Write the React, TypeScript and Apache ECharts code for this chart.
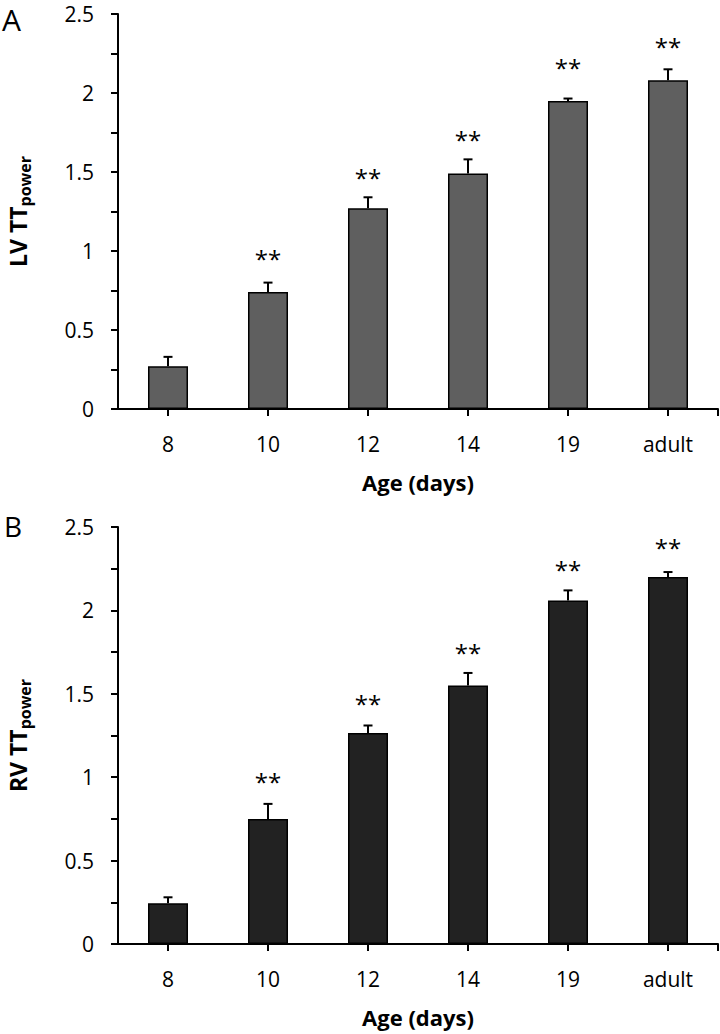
import React, { useEffect, useRef } from "react";
import * as echarts from "echarts";

const categories = ["8", "10", "12", "14", "19", "adult"];
const yTickLabels = ["0", "0.5", "1", "1.5", "2", "2.5"];

const lvValues = [0.27, 0.74, 1.27, 1.49, 1.95, 2.08];
const lvErrTop = [0.33, 0.8, 1.34, 1.58, 1.965, 2.15];
const lvStars = [null, 0.96, 1.47, 1.715, 2.165, 2.3];

const rvValues = [0.245, 0.75, 1.265, 1.55, 2.06, 2.2];
const rvErrTop = [0.28, 0.84, 1.31, 1.625, 2.12, 2.23];
const rvStars = [null, 0.98, 1.45, 1.756, 2.25, 2.385];

const FONT = "'Open Sans', 'Liberation Sans', sans-serif";

const GRID_A = { left: 118, top: 14, width: 600, height: 395 };
const GRID_B = { left: 118, top: 527, width: 600, height: 417 };

function yAxis(gridIndex: number, name: string) {
  return {
    type: "value",
    gridIndex,
    min: 0,
    max: 2.5,
    interval: 0.25,
    name: `{a|${name} TT}{b|power}`,
    nameLocation: "middle",
    nameRotate: 90,
    nameGap: 85,
    nameTextStyle: {
      rich: {
        a: { fontFamily: FONT, fontSize: 23, fontWeight: "bold", color: "#000", lineHeight: 30 },
        b: { fontFamily: FONT, fontSize: 16, fontWeight: "bold", color: "#000", lineHeight: 20, verticalAlign: "bottom" },
      },
    },
    splitLine: { show: false },
    axisLine: { show: true, lineStyle: { color: "#000", width: 2 } },
    axisTick: { show: true, inside: false, length: 7, lineStyle: { color: "#000", width: 2 } },
    axisLabel: {
      margin: 24,
      fontFamily: FONT,
      fontSize: 21,
      color: "#000",
      formatter: (v: number) => {
        const idx = Math.round(v * 2);
        return Math.abs(v * 2 - idx) < 1e-6 ? yTickLabels[idx] : "";
      },
    },
  };
}

function xAxis(gridIndex: number) {
  return {
    type: "category",
    gridIndex,
    data: categories,
    boundaryGap: true,
    name: "Age (days)",
    nameLocation: "middle",
    nameGap: 62,
    nameTextStyle: { fontFamily: FONT, fontSize: 22, fontWeight: "bold", color: "#000" },
    axisLine: { show: true, lineStyle: { color: "#000", width: 2 } },
    axisTick: { show: true, alignWithLabel: true, length: 7, lineStyle: { color: "#000", width: 2 } },
    axisLabel: { margin: 24, fontFamily: FONT, fontSize: 21, color: "#000" },
  };
}

function barSeries(idx: number, values: number[], color: string) {
  return {
    type: "bar",
    xAxisIndex: idx,
    yAxisIndex: idx,
    data: values,
    barWidth: 40,
    itemStyle: { color, borderColor: "#000", borderWidth: 1.5 },
    z: 2,
  };
}

function errSeries(idx: number, values: number[], tops: number[]) {
  return {
    type: "custom",
    xAxisIndex: idx,
    yAxisIndex: idx,
    z: 3,
    data: values.map((v, i) => [i, v, tops[i]]),
    renderItem: (params: any, api: any) => {
      const p0 = api.coord([api.value(0), api.value(1)]);
      const p1 = api.coord([api.value(0), api.value(2)]);
      const st = { stroke: "#000", lineWidth: 2 };
      return {
        type: "group",
        children: [
          { type: "line", shape: { x1: p0[0], y1: p0[1], x2: p1[0], y2: p1[1] }, style: st },
          { type: "line", shape: { x1: p1[0] - 4.5, y1: p1[1], x2: p1[0] + 4.5, y2: p1[1] }, style: st },
        ],
      };
    },
  };
}

function starSeries(idx: number, stars: (number | null)[]) {
  return {
    type: "custom",
    xAxisIndex: idx,
    yAxisIndex: idx,
    z: 4,
    data: stars.map((s, i) => (s == null ? null : [i, s])).filter((d) => d != null),
    renderItem: (params: any, api: any) => {
      const p = api.coord([api.value(0), api.value(1)]);
      return {
        type: "text",
        x: p[0],
        y: p[1] + 1,
        style: {
          text: "**",
          font: `24px ${FONT}`,
          fill: "#000",
          align: "center",
          verticalAlign: "middle",
          textAlign: "center",
          textVerticalAlign: "middle",
        },
      };
    },
  };
}

function endTick(g: { left: number; top: number; width: number; height: number }) {
  const x = g.left + g.width;
  const y = g.top + g.height;
  return {
    type: "line",
    shape: { x1: x, y1: y, x2: x, y2: y + 7 },
    style: { stroke: "#000", lineWidth: 2 },
  };
}

export default function App() {
  const ref = useRef<HTMLDivElement>(null);
  useEffect(() => {
    document.body.style.margin = "0";
    if (!ref.current) return;
    const chart = echarts.init(ref.current, undefined, { renderer: "svg" });
    chart.setOption({
      animation: false,
      backgroundColor: "#fff",
      grid: [
        { ...GRID_A, containLabel: false, outerBoundsMode: "none" },
        { ...GRID_B, containLabel: false, outerBoundsMode: "none" },
      ],
      xAxis: [xAxis(0), xAxis(1)],
      yAxis: [yAxis(0, "LV"), yAxis(1, "RV")],
      series: [
        barSeries(0, lvValues, "#5f5f5f"),
        errSeries(0, lvValues, lvErrTop),
        starSeries(0, lvStars),
        barSeries(1, rvValues, "#222222"),
        errSeries(1, rvValues, rvErrTop),
        starSeries(1, rvStars),
      ],
      graphic: [
        { type: "text", left: 2, top: 4, style: { text: "A", font: `30px ${FONT}`, fill: "#000" } },
        { type: "text", left: 4, top: 512, style: { text: "B", font: `28px ${FONT}`, fill: "#000" } },
        endTick(GRID_A),
        endTick(GRID_B),
      ],
    });
    return () => chart.dispose();
  }, []);
  return <div ref={ref} style={{ width: 720, height: 1034 }} />;
}
